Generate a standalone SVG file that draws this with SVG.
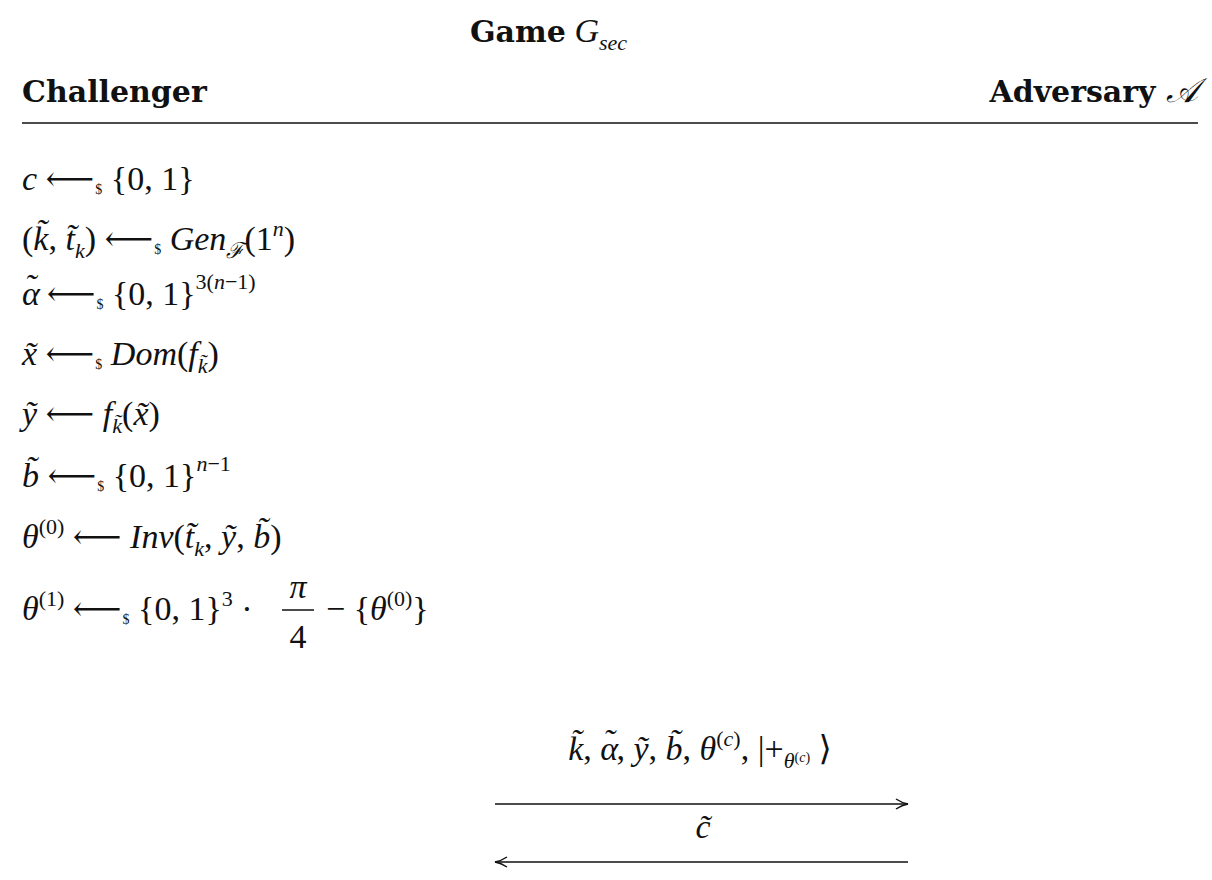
<svg xmlns="http://www.w3.org/2000/svg" width="1212" height="880" viewBox="0 0 1212 880">
<style>
text{font-family:"Liberation Serif","DejaVu Serif",serif;font-size:34px;fill:#111}
.b{font-weight:bold;font-family:"DejaVu Serif","Liberation Serif",serif;font-size:30px}
.i{font-style:italic}
.s{font-size:22px}
.d{font-size:14px}
.c{stroke:#111;stroke-width:1.5;fill:none}
</style>
<defs><marker id="ah" markerWidth="14" markerHeight="12" refX="13" refY="6" orient="auto" markerUnits="userSpaceOnUse"><path d="M1,1 Q7,5 13,6 Q7,7 1,11" class="c"/></marker></defs>
<rect width="1212" height="880" fill="#fff"/>
<g id="title"><text x="470" y="42"><tspan class="b">Game</tspan> <tspan class="i">G</tspan><tspan class="i s" dy="8">sec</tspan></text></g>
<g id="challenger"><text class="b" x="22" y="102">Challenger</text></g>
<g id="adversary"><text x="1198" y="102" text-anchor="end"><tspan class="b">Adversary </tspan><tspan class="i" font-family="DejaVu Serif">𝒜</tspan></text></g>
<line x1="22" y1="123" x2="1198" y2="123" stroke="#111" stroke-width="1.5"/>
<g id="steps">
<text x="22" y="190"><tspan class="i">c</tspan> ⟵<tspan class="d" dx="1" dy="4">$</tspan><tspan dy="-4"> {0, 1}</tspan></text>
<text x="22" y="250">(<tspan class="i">k̃</tspan>, <tspan class="i">t̃</tspan><tspan class="i s" dy="8">k</tspan><tspan dy="-8">) ⟵</tspan><tspan class="d" dx="1" dy="4">$</tspan><tspan dy="-4"> </tspan><tspan class="i">Gen</tspan><tspan class="i s" dy="8">ℱ</tspan><tspan dy="-8">(1</tspan><tspan class="i s" dy="-14">n</tspan><tspan dy="14">)</tspan></text>
<text x="22" y="305"><tspan class="i">α</tspan><tspan class="i" dx="-15" dy="-7">˜</tspan><tspan dy="7" dx="2"> ⟵</tspan><tspan class="d" dx="1" dy="4">$</tspan><tspan dy="-4"> {0, 1}</tspan><tspan class="s" dy="-16">3(<tspan class="i">n</tspan>−1)</tspan></text>
<text x="22" y="365"><tspan class="i">x̃</tspan> ⟵<tspan class="d" dx="1" dy="4">$</tspan><tspan dy="-4"> </tspan><tspan class="i">Dom</tspan>(<tspan class="i">f</tspan><tspan class="i s" dy="8">k̃</tspan><tspan dy="-8">)</tspan></text>
<text x="22" y="425"><tspan class="i">ỹ</tspan> ⟵ <tspan class="i">f</tspan><tspan class="i s" dy="8">k̃</tspan><tspan dy="-8">(</tspan><tspan class="i">x̃</tspan>)</text>
<text x="22" y="487"><tspan class="i">b̃</tspan> ⟵<tspan class="d" dx="1" dy="4">$</tspan><tspan dy="-4"> {0, 1}</tspan><tspan class="s" dy="-16"><tspan class="i">n</tspan>−1</tspan></text>
<text x="22" y="548"><tspan class="i">θ</tspan><tspan class="s" dy="-14">(0)</tspan><tspan dy="14"> ⟵ </tspan><tspan class="i">Inv</tspan>(<tspan class="i">t̃</tspan><tspan class="i s" dy="8">k</tspan><tspan dy="-8">, </tspan><tspan class="i">ỹ</tspan>, <tspan class="i">b̃</tspan>)</text>
<text x="22" y="620"><tspan class="i">θ</tspan><tspan class="s" dy="-14">(1)</tspan><tspan dy="14"> ⟵</tspan><tspan class="d" dx="1" dy="4">$</tspan><tspan dy="-4"> {0, 1}</tspan><tspan class="s" dy="-14">3</tspan><tspan dy="14"> ·</tspan></text>
<text x="298" y="598" text-anchor="middle" class="i">π</text>
<line x1="282" y1="610" x2="314" y2="610" stroke="#111" stroke-width="1.5"/>
<text x="298" y="648" text-anchor="middle">4</text>
<text x="326" y="620">− {<tspan class="i">θ</tspan><tspan class="s" dy="-14">(0)</tspan><tspan dy="14">}</tspan></text>
</g>
<g id="connectors">
<line x1="495" y1="804" x2="908" y2="804" class="c" marker-end="url(#ah)"/>
<line x1="908" y1="862" x2="495" y2="862" class="c" marker-end="url(#ah)"/>
</g>
<g id="labels">
<text x="700" y="760" text-anchor="middle"><tspan class="i">k̃</tspan>, <tspan class="i">α</tspan><tspan class="i" dx="-15" dy="-7">˜</tspan><tspan dy="7" dx="2">, </tspan><tspan class="i">ỹ</tspan>, <tspan class="i">b̃</tspan>, <tspan class="i">θ</tspan><tspan class="s" dy="-14">(<tspan class="i">c</tspan>)</tspan><tspan dy="14">, |+</tspan><tspan class="i s" dy="8">θ</tspan><tspan class="d" dy="-6">(<tspan class="i">c</tspan>)</tspan><tspan dy="-2"> ⟩</tspan></text>
<text x="703" y="838" text-anchor="middle" class="i">c̃</text>
</g>
</svg>
